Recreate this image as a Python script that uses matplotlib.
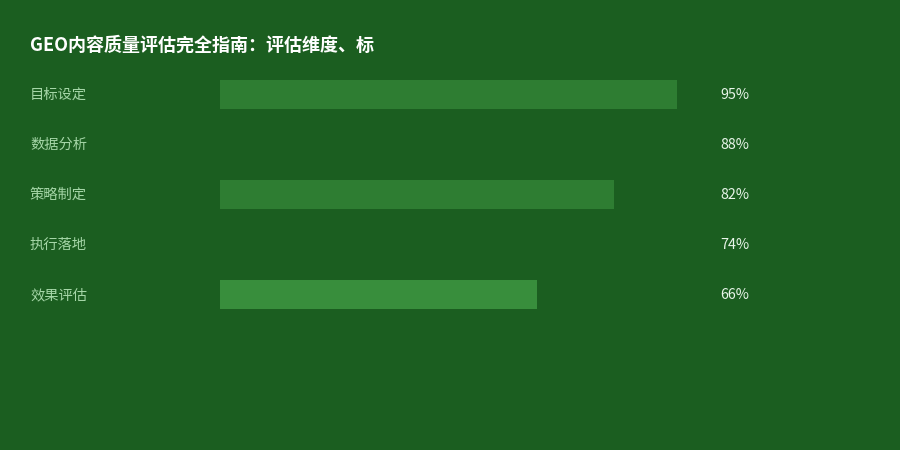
import matplotlib
matplotlib.use("Agg")
import matplotlib.pyplot as plt
from matplotlib.transforms import blended_transform_factory

plt.rcParams['font.family'] = ['Noto Sans CJK SC', 'DejaVu Sans']

title = "GEO内容质量评估完全指南：评估维度、标"
categories = ["目标设定", "数据分析", "策略制定", "执行落地", "效果评估"]
values = [95, 88, 82, 74, 66]
bar_colors = ["#2e7d32", "#1b5e20", "#2e7d32", "#1b5e20", "#388e3c"]

bg = "#1b5e20"

fig = plt.figure(figsize=(9, 4.5), dpi=100, facecolor=bg)
ax = fig.add_axes([220 / 900, 0, 481 / 900, 1])
ax.set_facecolor(bg)

y = list(range(len(categories)))
ax.barh(y, values, height=0.58, color=bar_colors, linewidth=0)

ax.set_xlim(0, 100)
ax.set_ylim(7.12, -1.88)
ax.axis("off")

# labels sit a pixel lower than the bar centre
trans = blended_transform_factory(fig.transFigure, ax.transData)
for i, (cat, val) in enumerate(zip(categories, values)):
    ax.text(30 / 900, i + 0.02, cat, transform=trans, ha="left", va="center",
            fontsize=10.3, color="#a5d6a7")
    ax.text(720 / 900, i + 0.02, f"{val}%", transform=trans, ha="left", va="center",
            fontsize=10.3, color="#e8f5e9")

fig.text(30 / 900, 1 - 45 / 450, title, ha="left", va="center",
         fontsize=13, fontweight="bold", color="white")

fig.savefig("out.png", dpi=100, facecolor=bg)
